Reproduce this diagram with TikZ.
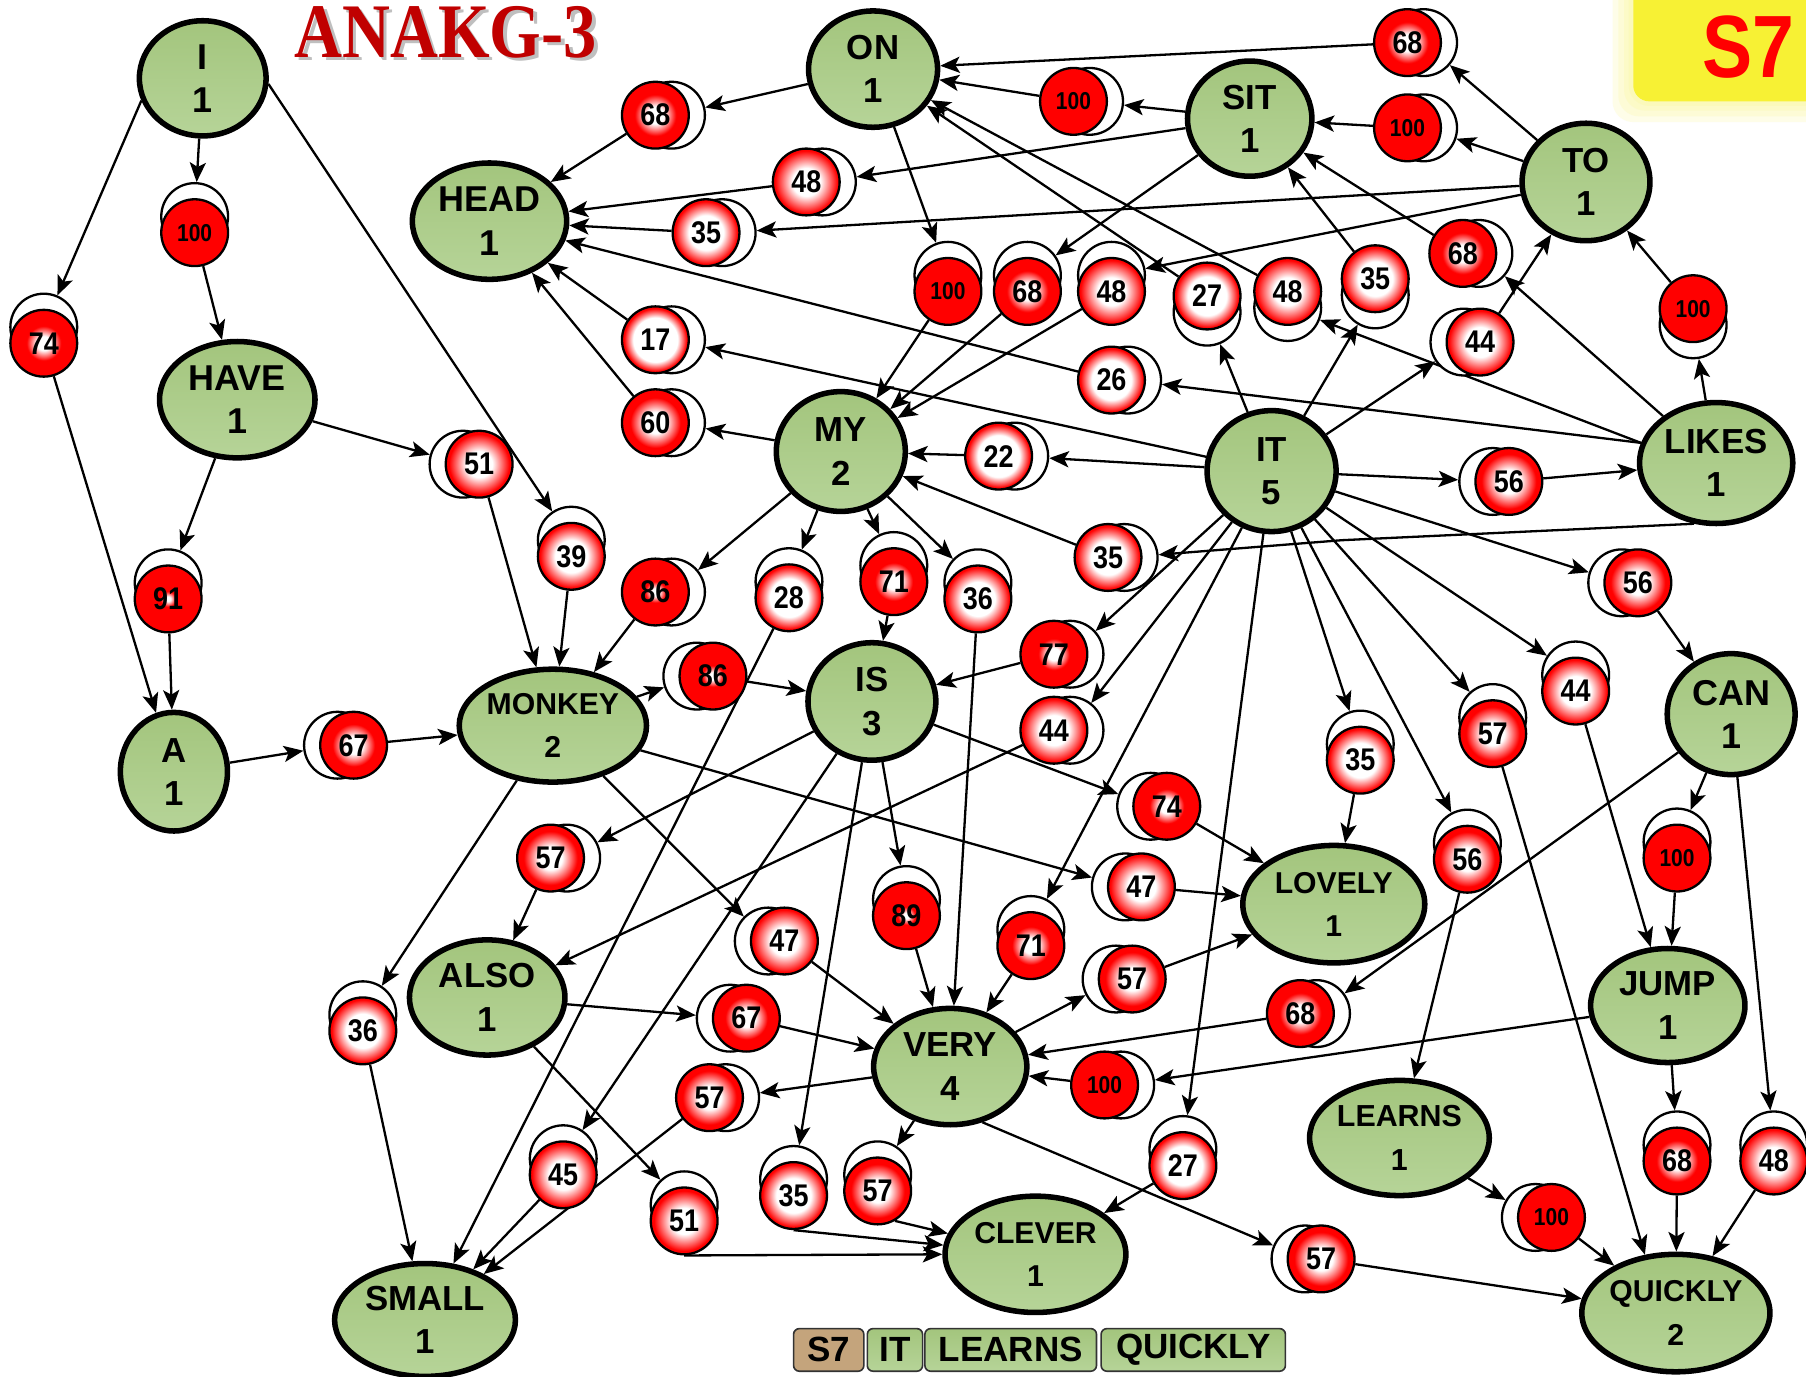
\documentclass[tikz,border=0pt]{standalone}
\usepackage{fontspec}
\setmainfont{Liberation Sans}
\newfontfamily\numfont{Liberation Sans}[FakeStretch=0.86]
\newfontfamily\titlefont{Liberation Serif}[FakeStretch=0.86]
\newfontfamily\tagfont{Liberation Sans}[FakeStretch=0.85]
\usetikzlibrary{shapes.geometric,arrows.meta}

\definecolor{nodegreenA}{RGB}{163,197,125}
\definecolor{nodegreenB}{RGB}{182,212,152}
\definecolor{titlered}{RGB}{192,0,0}
\definecolor{tagyellow}{RGB}{247,241,52}
\definecolor{legtan}{RGB}{196,164,124}

% radial fill of the weight discs: the lower the weight, the wider the white core
\makeatletter
\newcommand\mkbadgeshade[1]{%
  \pgfmathsetmacro\bs@a{(100-#1)*0.2}%
  \pgfmathsetmacro\bs@b{min(23.5,(100-#1)*0.42+2)}%
  \edef\bs@tmp{\noexpand\pgfdeclareradialshading{bs#1}{\noexpand\pgfpointorigin}{color(0bp)=(white); color(\bs@a bp)=(white); color(\bs@b bp)=(red); color(25bp)=(red); color(50bp)=(red)}}%
  \bs@tmp}
\makeatother
\mkbadgeshade{17}\mkbadgeshade{22}\mkbadgeshade{26}\mkbadgeshade{27}
\mkbadgeshade{28}\mkbadgeshade{35}\mkbadgeshade{36}\mkbadgeshade{39}
\mkbadgeshade{44}\mkbadgeshade{45}\mkbadgeshade{47}\mkbadgeshade{48}
\mkbadgeshade{51}\mkbadgeshade{56}\mkbadgeshade{57}\mkbadgeshade{60}
\mkbadgeshade{67}\mkbadgeshade{68}\mkbadgeshade{71}\mkbadgeshade{74}
\mkbadgeshade{77}\mkbadgeshade{86}\mkbadgeshade{89}\mkbadgeshade{91}
\pgfdeclareradialshading{bs100}{\pgfpointorigin}{color(0bp)=(red); color(50bp)=(red)}

\pgfdeclarelayer{edges}
\pgfsetlayers{edges,main}

\tikzset{
  wordnode/.style={ellipse, draw=black, line width=2.4pt, top color=nodegreenA,
    bottom color=nodegreenB, inner sep=0pt, align=center, text=black},
  bback/.style={circle, draw=black, line width=1pt, fill=white,
    minimum size=29pt, inner sep=0pt},
  bfront/.style={circle, draw=black, line width=1pt, shade, shading=bs#1,
    minimum size=29pt, inner sep=0pt},
  lnk/.style={draw=black, line width=1pt,
    -{Stealth[length=8.5pt,width=7pt,inset=2pt]}},
  legbox/.style={draw=black!80, line width=0.7pt, rounded corners=2.5pt,
    minimum height=18.5pt, inner sep=0pt,
    font=\fontsize{15.2}{16}\selectfont\bfseries},
}

% word node: name, x, y, width, height, word, count, font size
\newcommand\wnode[8]{%
  \node[wordnode, minimum width=#4*0.5pt, minimum height=#5*0.5pt,
        font=\fontsize{#8}{18.8}\selectfont\bfseries] (#1) at (#2,#3) {#6\\#7};}
% weight disc: name, x, y, weight, offset of the white disc behind it
\newcommand\bnum[1]{\ifnum#1=100 {\numfont\bfseries\fontsize{10.6}{11}\selectfont 100}\else{\numfont\bfseries\fontsize{13.6}{14}\selectfont #1}\fi}
\newcommand\bdg[6]{%
  \node[bback] (#1w) at ({#2+#5},{#3+#6}) {};
  \node[bfront=#4] (#1) at (#2,#3) {\bnum{#4}};}
% source -> disc -> target
\newcommand\via[3]{\draw[lnk] (#1) -- (#2w); \draw[lnk] (#2) -- (#3);}

\begin{document}
\begin{tikzpicture}[x=0.5pt,y=-0.5pt]
\useasboundingbox (0,0) rectangle (1568,1195);

% ---- title and sentence tag
\node[font=\titlefont\bfseries\fontsize{33.5}{35}\selectfont, text=black!25] at (390,31) {ANAKG-3};
\node[font=\titlefont\bfseries\fontsize{33.5}{35}\selectfont, text=titlered] (title) at (387,28) {ANAKG-3};

\foreach \g in {18,13,8,4}
  \fill[tagyellow!55!white, opacity=0.2, rounded corners=9pt]
    (1418-\g,-30) rectangle (1600,88+\g);
\fill[tagyellow, rounded corners=7pt] (1418,-30) rectangle (1600,88);
\node[font=\tagfont\bfseries\fontsize{38.4}{40}\selectfont, text=red] (tag) at (1518,41) {S7};

% ---- word nodes
\wnode{I}{176}{68}{110}{100}{I}{1}{15.6}
\wnode{HEAD}{425}{192}{134}{101}{HEAD}{1}{15.6}
\wnode{HAVE}{206}{347}{135}{101}{HAVE}{1}{15.6}
\wnode{ON}{758}{60}{112}{101}{ON}{1}{15.1}
\wnode{SIT}{1085}{103}{108}{100}{SIT}{1}{15.1}
\wnode{TO}{1377}{158}{111}{102}{TO}{1}{15.1}
\wnode{MY}{730}{392}{112}{104}{MY}{2}{15.1}
\wnode{IT}{1104}{409}{112}{105}{IT}{5}{15.1}
\wnode{LIKES}{1490}{402}{133}{105}{LIKES}{1}{15.1}
\wnode{A}{151}{670}{93}{103}{A}{1}{15.1}
\wnode{MONKEY}{480}{630}{157}{98}{MONKEY}{2}{13.1}
\wnode{IS}{757}{609}{111}{102}{IS}{3}{15.1}
\wnode{CAN}{1503}{620}{111}{105}{CAN}{1}{15.6}
\wnode{LOVELY}{1158}{785}{158}{102}{LOVELY}{1}{13.1}
\wnode{ALSO}{423}{866}{135}{100}{ALSO}{1}{15.1}
\wnode{JUMP}{1448}{873}{134}{99}{JUMP}{1}{15.1}
\wnode{VERY}{825}{926}{133}{101}{VERY}{4}{15.1}
\wnode{LEARNS}{1215}{988}{156}{100}{LEARNS}{1}{13.2}
\wnode{SMALL}{369}{1146}{157}{98}{SMALL}{1}{15.1}
\wnode{CLEVER}{899}{1089}{157}{101}{CLEVER}{1}{13.1}
\wnode{QUICKLY}{1455}{1140}{157}{102}{QUICKLY}{2}{13.1}

% ---- weight discs
\bdg{b1}{38}{298}{74}{0}{-14}
\bdg{b2}{169}{202}{100}{0}{-14}
\bdg{b3}{569}{100}{68}{14}{0}
\bdg{b4}{700}{158}{48}{14}{0}
\bdg{b5}{613}{202}{35}{14}{0}
\bdg{b6}{569}{295}{17}{14}{0}
\bdg{b7}{569}{367}{60}{14}{0}
\bdg{b8}{932}{88}{100}{14}{0}
\bdg{b9}{1222}{37}{68}{14}{0}
\bdg{b10}{1222}{111}{100}{14}{0}
\bdg{b11}{823}{253}{100}{0}{-14}
\bdg{b12}{892}{253}{68}{0}{-14}
\bdg{b13}{965}{253}{48}{0}{-14}
\bdg{b14}{1048}{257}{27}{0}{14}
\bdg{b15}{1118}{253}{48}{0}{14}
\bdg{b16}{1194}{242}{35}{0}{14}
\bdg{b17}{1270}{220}{68}{14}{0}
\bdg{b18}{1285}{297}{44}{-14}{0}
\bdg{b19}{1470}{268}{100}{0}{14}
\bdg{b20}{965}{330}{26}{14}{0}
\bdg{b21}{867}{396}{22}{14}{0}
\bdg{b22}{1310}{418}{56}{-14}{0}
\bdg{b23}{496}{483}{39}{0}{-14}
\bdg{b24}{416}{403}{51}{-14}{0}
\bdg{b25}{146}{520}{91}{0}{-14}
\bdg{b26}{569}{514}{86}{14}{0}
\bdg{b27}{685}{519}{28}{0}{-14}
\bdg{b28}{776}{505}{71}{0}{-14}
\bdg{b29}{849}{520}{36}{0}{-14}
\bdg{b30}{962}{484}{35}{14}{0}
\bdg{b31}{1422}{506}{56}{-14}{0}
\bdg{b32}{619}{587}{86}{-14}{0}
\bdg{b33}{915}{568}{77}{14}{0}
\bdg{b34}{915}{634}{44}{14}{0}
\bdg{b35}{1013}{700}{74}{-14}{0}
\bdg{b36}{991}{770}{47}{-14}{0}
\bdg{b37}{1181}{660}{35}{0}{-14}
\bdg{b38}{1296}{637}{57}{0}{-14}
\bdg{b39}{1368}{600}{44}{0}{-14}
\bdg{b40}{1274}{746}{56}{0}{-14}
\bdg{b41}{1456}{745}{100}{0}{-14}
\bdg{b42}{787}{795}{89}{0}{-14}
\bdg{b43}{895}{821}{71}{0}{-14}
\bdg{b44}{983}{850}{57}{-14}{0}
\bdg{b45}{1129}{880}{68}{14}{0}
\bdg{b46}{959}{942}{100}{14}{0}
\bdg{b47}{681}{817}{47}{-14}{0}
\bdg{b48}{648}{884}{67}{-14}{0}
\bdg{b49}{478}{745}{57}{14}{0}
\bdg{b50}{315}{895}{36}{0}{-14}
\bdg{b51}{616}{953}{57}{14}{0}
\bdg{b52}{489}{1020}{45}{0}{-14}
\bdg{b53}{594}{1060}{51}{0}{-14}
\bdg{b54}{689}{1038}{35}{0}{-14}
\bdg{b55}{762}{1034}{57}{0}{-14}
\bdg{b56}{1027}{1012}{27}{0}{-14}
\bdg{b57}{1147}{1093}{57}{-14}{0}
\bdg{b58}{1347}{1057}{100}{-14}{0}
\bdg{b59}{1456}{1008}{68}{0}{-14}
\bdg{b60}{1540}{1008}{48}{0}{-14}
\bdg{b61}{307}{647}{67}{-14}{0}

% ---- sentence strip
\node[legbox, fill=legtan, minimum width=30.5pt] (lgS) at (719.5,1172) {S7};
\node[legbox, top color=nodegreenA, bottom color=nodegreenB, minimum width=24pt] (lgIT) at (777,1172) {IT};
\node[legbox, top color=nodegreenA, bottom color=nodegreenB, minimum width=74.5pt] (lgLE) at (877.5,1172) {LEARNS};
\node[legbox, top color=nodegreenA, bottom color=nodegreenB, minimum width=80pt] (lgQU) at (1036,1172) {QUICKLY};

% ---- connections
\begin{pgfonlayer}{edges}
\fill[white] (0,0) rectangle (1568,1195);
\draw[lnk] (I.200) -- (b1w);
\draw[lnk] (b1) -- (A);
\via{I}{b2}{HAVE}
\via{ON}{b3}{HEAD}
\via{SIT}{b4}{HEAD}
\via{TO}{b5}{HEAD}
\via{IT}{b6}{HEAD}
\via{MY}{b7}{HEAD}
\via{SIT}{b8}{ON}
\via{TO}{b9}{ON}
\via{TO}{b10}{SIT}
\via{ON}{b11}{MY}
\via{SIT}{b12}{MY}
\via{TO}{b13}{MY}
\via{IT}{b14}{ON}
\via{LIKES.165}{b15}{ON}
\via{IT}{b16}{SIT}
\via{LIKES}{b17}{SIT}
\via{IT}{b18}{TO}
\via{LIKES}{b19}{TO}
\via{LIKES.165}{b20}{HEAD}
\via{IT}{b21}{MY}
\via{IT}{b22}{LIKES}
\draw[lnk] (I.-5) -- (b23w);
\draw[lnk] (b23) -- (MONKEY);
\via{HAVE}{b24}{MONKEY}
\via{HAVE}{b25}{A}
\via{MY}{b26}{MONKEY}
\via{MY}{b27}{SMALL}
\via{MY}{b28}{IS}
\via{MY}{b29}{VERY}
\draw[lnk] (LIKES.250) -- (1165,469) -- (b30w);
\draw[lnk] (b30) -- (MY);
\via{IT}{b31}{CAN}
\via{MONKEY}{b32}{IS}
\via{IT}{b33}{IS}
\via{IT}{b34}{ALSO}
\via{IS}{b35}{LOVELY}
\via{MONKEY}{b36}{LOVELY}
\via{IT}{b37}{LOVELY}
\draw[lnk] (IT) -- (b38w);
\draw[lnk] (b38) -- (QUICKLY.118);
\via{IT}{b39}{JUMP}
\via{IT}{b40}{LEARNS}
\via{CAN}{b41}{JUMP}
\via{IS}{b42}{VERY}
\via{IT}{b43}{VERY}
\via{VERY}{b44}{LOVELY}
\via{CAN}{b45}{VERY}
\via{JUMP}{b46}{VERY}
\via{MONKEY}{b47}{VERY}
\via{ALSO}{b48}{VERY}
\via{IS}{b49}{ALSO}
\via{MONKEY}{b50}{SMALL}
\via{VERY}{b51}{SMALL}
\via{IS}{b52}{SMALL}
\draw[lnk] (ALSO) -- (b53w);
\draw[lnk] (b53.south) -- (CLEVER.west);
\draw[lnk] (IS) -- (b54w);
\draw[lnk] (b54.south) -- (CLEVER);
\draw[lnk] (VERY) -- (b55w);
\draw[lnk] (b55.-60) -- (CLEVER);
\via{IT}{b56}{CLEVER}
\draw[lnk] (VERY.-60) -- (b57w);
\draw[lnk] (b57) -- (QUICKLY);
\via{LEARNS}{b58}{QUICKLY}
\via{JUMP}{b59}{QUICKLY}
\via{CAN}{b60}{QUICKLY}
\via{A}{b61}{MONKEY}
\end{pgfonlayer}
\end{tikzpicture}
\end{document}
